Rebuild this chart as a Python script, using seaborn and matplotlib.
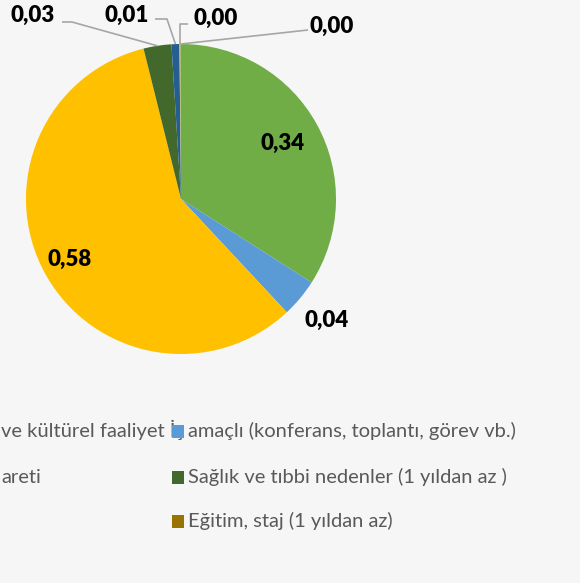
import matplotlib
matplotlib.use("Agg")
import matplotlib.pyplot as plt
from matplotlib.patches import Rectangle
import numpy as np
import seaborn as sns

# veri (saat yönünde, tepeden başlayarak)
categories = [
    "Turizm, gezi, tatil",
    "amaçlı (konferans, toplantı, görev vb.)",
    "Akraba ve arkadaş ziyareti",
    "Sağlık ve tıbbi nedenler (1 yıldan az )",
    "Boş zaman, sportif ve kültürel faaliyet İş",
    "Dini amaçlı",
    "Eğitim, staj (1 yıldan az)",
]
shares = [0.34, 0.04, 0.58, 0.029, 0.0082, 0.0012, 0.0004]
colors = ["#70AD47", "#5B9BD5", "#FFC000", "#43682B", "#255E91", "#A9D18E", "#997300"]

# lejant: sağ sütun (görünen) ve sol sütunun kırpılmış, görünen parçaları
legend_right = [1, 3, 6]
legend_left_visible = ["ve kültürel faaliyet İş", "areti"]

W, H = 580, 583
cx, cy, R = 181, 199, 155   # pasta merkezi ve yarıçapı (piksel)

sns.set_theme(style="white")
plt.rcParams["font.family"] = ["Lato", "DejaVu Sans"]

fig = plt.figure(figsize=(W / 100, H / 100), dpi=100)
fig.patch.set_facecolor("#F6F6F6")

ax = fig.add_axes([(cx - R) / W, 1 - (cy + R) / H, 2 * R / W, 2 * R / H])
wedges, _ = ax.pie(shares, colors=colors, startangle=90, counterclock=False,
                   wedgeprops=dict(linewidth=0))
ax.set_xlim(-1, 1)
ax.set_ylim(-1, 1)
ax.set_aspect("equal")
ax.axis("off")


def to_data(px, py):
    return (px - cx) / R, (cy - py) / R


def fmt(v):
    return f"{v:.2f}".replace(".", ",")


lab_kw = dict(fontsize=16, fontweight="heavy", color="black", ha="center")

# dilim içi / dışı etiketler (radyal konum)
radial = {0: 0.75, 1: 1.22, 2: 0.82}
for i, rf in radial.items():
    w = wedges[i]
    a = np.deg2rad((w.theta1 + w.theta2) / 2)
    ax.text(rf * np.cos(a), rf * np.sin(a), fmt(shares[i]), va="center", **lab_kw)

# kılavuz çizgili etiketler: metin konumu, çizgi kırılma noktaları (piksel)
leaders = {
    3: ((33, 21.5), [(62, 22), (72, 22)]),
    4: ((127, 21.5), [(155, 19), (167, 19)]),
    5: ((216, 25), [(188, 24), (180, 24)]),
    6: ((332, 32.5), [(308, 30)]),
}
for i, (tpos, pts) in leaders.items():
    w = wedges[i]
    a = np.deg2rad((w.theta1 + w.theta2) / 2)
    xs = [to_data(*p)[0] for p in pts] + [np.cos(a)]
    ys = [to_data(*p)[1] for p in pts] + [np.sin(a)]
    ax.plot(xs, ys, color="#A6A6A6", lw=1.2, clip_on=False, solid_capstyle="butt")
    tx, ty = to_data(*tpos)
    ax.text(tx, ty, fmt(shares[i]), va="baseline", clip_on=False, **lab_kw)

# lejant (Excel düzeni, sol sütun kırpılmış)
rows_top = [425, 471, 515]
leg_color = "#595959"
leg_size = 14.5
for k, txt in enumerate(legend_left_visible):
    fig.text(1 / W, 1 - (rows_top[k] + 12) / H, txt,
             ha="left", va="baseline", fontsize=leg_size, color=leg_color)
for k, i in enumerate(legend_right):
    y0 = rows_top[k]
    fig.patches.append(Rectangle((172 / W, 1 - (y0 + 13) / H), 12 / W, 13 / H,
                                 transform=fig.transFigure, facecolor=colors[i],
                                 edgecolor="none", zorder=5))
    fig.text(188 / W, 1 - (y0 + 12) / H, categories[i],
             ha="left", va="baseline", fontsize=leg_size, color=leg_color)

fig.savefig("out.png", dpi=100, facecolor=fig.get_facecolor())
